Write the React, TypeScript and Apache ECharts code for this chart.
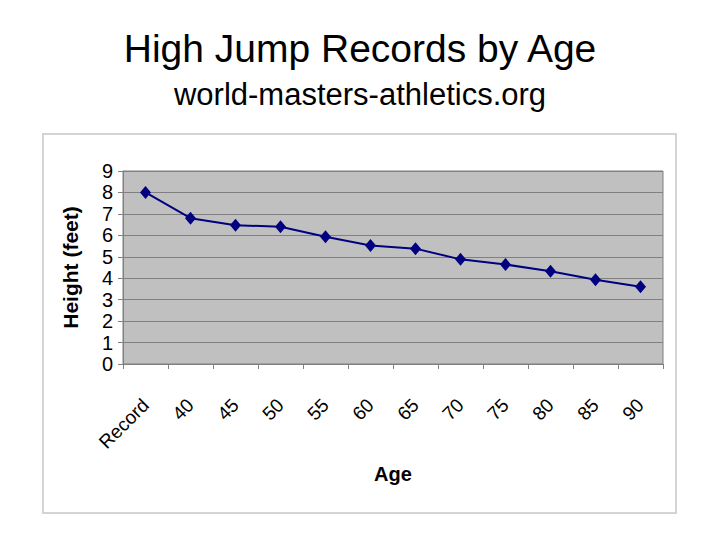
import React, { useEffect, useRef } from "react";
import * as echarts from "echarts";

const categories = ["Record", "40", "45", "50", "55", "60", "65", "70", "75", "80", "85", "90"];
const heights = [8.0, 6.8, 6.47, 6.4, 5.93, 5.53, 5.38, 4.88, 4.64, 4.33, 3.93, 3.6];
const yTicks = [0, 1, 2, 3, 4, 5, 6, 7, 8, 9];

const titleText = "High Jump Records by Age";
const subtitleText = "world-masters-athletics.org";

export default function App() {
  const ref = useRef<HTMLDivElement>(null);
  useEffect(() => {
    if (!ref.current) return;
    const chart = echarts.init(ref.current, undefined, { renderer: "svg" });
    const font = "'Liberation Sans', Arial, sans-serif";
    chart.setOption({
      animation: false,
      backgroundColor: "#ffffff",
      graphic: [
        {
          type: "rect",
          shape: { x: 43, y: 134, width: 633, height: 379 },
          style: { fill: "none", stroke: "#d4d4d4", lineWidth: 2 },
          z: -1,
        },
        {
          type: "text",
          x: 360,
          y: 48,
          style: {
            text: titleText,
            font: `39px ${font}`,
            fill: "#000",
            align: "center",
            verticalAlign: "middle",
          },
        },
        {
          type: "text",
          x: 360,
          y: 94,
          style: {
            text: subtitleText,
            font: `31px ${font}`,
            fill: "#000",
            align: "center",
            verticalAlign: "middle",
          },
        },
      ],
      grid: {
        left: 123,
        right: 57,
        top: 171,
        bottom: 176,
        show: true,
        backgroundColor: "#c0c0c0",
        borderColor: "#808080",
        borderWidth: 1,
      },
      xAxis: {
        type: "category",
        data: categories,
        boundaryGap: true,
        name: "Age",
        nameLocation: "middle",
        nameGap: 100,
        nameTextStyle: {
          fontFamily: "'Liberation Sans Narrow', " + font,
          fontWeight: "bold",
          fontSize: 20,
          color: "#000",
        },
        axisLine: { show: true, lineStyle: { color: "#808080", width: 1 } },
        axisTick: { show: true, alignWithLabel: false, length: 5, lineStyle: { color: "#808080" } },
        axisLabel: {
          rotate: 45,
          margin: 38,
          fontSize: 19,
          fontFamily: font,
          color: "#000",
          interval: 0,
        },
        splitLine: { show: false },
      },
      yAxis: {
        type: "value",
        min: 0,
        max: 9,
        interval: 1,
        name: "Height (feet)",
        nameLocation: "middle",
        nameGap: 42,
        nameTextStyle: {
          fontFamily: font,
          fontWeight: "bold",
          fontSize: 21,
          color: "#000",
        },
        axisLine: { show: true, lineStyle: { color: "#808080" } },
        axisTick: { show: true, length: 5, lineStyle: { color: "#808080" } },
        axisLabel: {
          fontSize: 20,
          fontFamily: font,
          color: "#000",
          margin: 10,
          formatter: (v: number) => (yTicks.includes(v) ? String(v) : ""),
        },
        splitLine: { show: true, lineStyle: { color: "#808080", width: 1 } },
      },
      series: [
        {
          type: "line",
          data: heights,
          symbol: "diamond",
          symbolSize: [11, 13],
          lineStyle: { color: "#000080", width: 2 },
          itemStyle: { color: "#000080" },
        },
      ],
    });
    return () => chart.dispose();
  }, []);
  return <div ref={ref} style={{ width: 720, height: 540, position: "absolute", left: 0, top: 0 }} />;
}
